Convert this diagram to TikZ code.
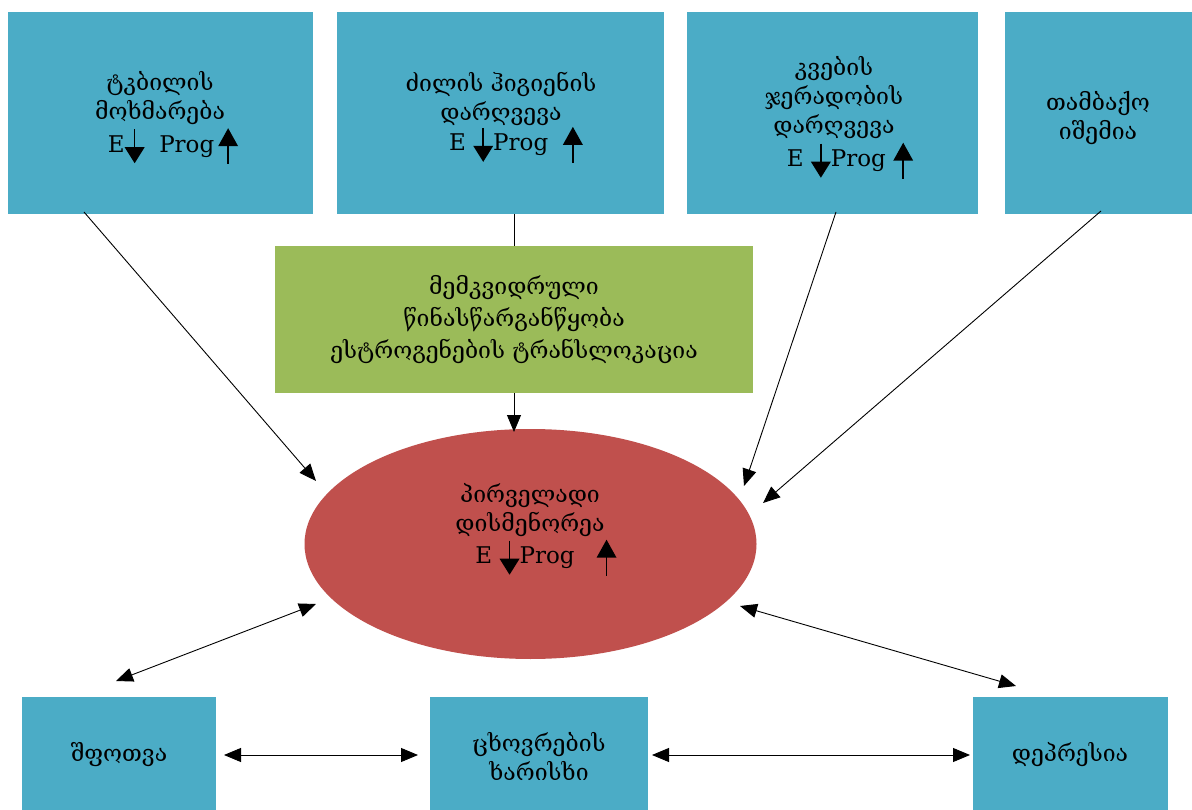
\documentclass[tikz,border=0pt]{standalone}
\usepackage{fontspec}
\setmainfont{Liberation Serif}
\newfontfamily\geo{DejaVu Serif}
\usetikzlibrary{arrows.meta,shapes.geometric}
\definecolor{boxblue}{HTML}{4BACC6}
\definecolor{boxgreen}{HTML}{9BBB59}
\definecolor{ellred}{HTML}{C0504D}
\newcommand{\darr}{\tikz[baseline=0pt,x=1pt,y=1pt]{\draw[draw=black,line width=1.6pt] (0,23)--(0,4);\fill[fill=black] (-10,5)--(10,5)--(0,-11)--cycle;}}
\newcommand{\uarr}{\tikz[baseline=0pt,x=1pt,y=1pt]{\fill[fill=black] (-10,6)--(10,6)--(0,24)--cycle;\draw[draw=black,line width=1.6pt] (0,7)--(0,-12);}}
\newcommand{\lat}[2]{\hspace*{#1}{\fontsize{23}{28}\selectfont #2}}
\tikzset{
  bluebox/.style={fill=boxblue,draw=none,inner sep=0pt},
  greenbox/.style={fill=boxgreen,draw=none,inner sep=0pt},
  txt/.style={align=center,font=\geo\fontsize{23}{29}\selectfont,text=black},
  conn/.style={draw=black,line width=0.9pt},
  arr/.style={conn,-{Triangle[length=17pt,width=14pt]}},
  darrow/.style={conn,{Triangle[length=17pt,width=14pt]}-{Triangle[length=17pt,width=14pt]}}
}
\begin{document}
\begin{tikzpicture}[x=1pt,y=-1pt]
\useasboundingbox (0,0) rectangle (1192,810);
\fill[white] (0,0) rectangle (1192,810);
% top boxes
\node[bluebox,minimum width=305pt,minimum height=202pt] (b1) at (160.5,113) {};
\node[bluebox,minimum width=327pt,minimum height=202pt] (b2) at (500.5,113) {};
\node[bluebox,minimum width=291pt,minimum height=202pt] (b3) at (832.5,113) {};
\node[bluebox,minimum width=187pt,minimum height=202pt] (b4) at (1098.5,113) {};
% green
\node[greenbox,minimum width=478pt,minimum height=147pt] (g) at (514,319.5) {};
% ellipse
\node[ellipse,fill=ellred,draw=none,minimum width=452pt,minimum height=230pt,inner sep=0pt] (e) at (530.5,544) {};
% bottom boxes
\node[bluebox,minimum width=194pt,minimum height=113pt,anchor=north west] (s) at (22,697) {};
\node[bluebox,minimum width=218pt,minimum height=113pt,anchor=north west] (c) at (430,697) {};
\node[bluebox,minimum width=195pt,minimum height=113pt,anchor=north west] (d) at (973,697) {};
% texts
\node[txt] (t1) at (160,118) {ტკბილის\\მოხმარება\\[3pt]\lat{26pt}{E\darr\ \ Prog\,\uarr}};
\node[txt] (t2) at (501,118) {ძილის ჰიგიენის\\დარღვევა\\[0pt]\lat{30pt}{E \darr Prog \ \uarr}};
\node[txt] (t3) at (834,118) {კვების\\ჯერადობის\\დარღვევა\\[3pt]\lat{32pt}{E \darr Prog \uarr}};
\node[txt] (t4) at (1098,118) {თამბაქო\\იშემია};
\node[txt,font=\geo\fontsize{23}{32}\selectfont] (tg) at (514,320) {მემკვიდრული\\წინასწარგანწყობა\\ესტროგენების ტრანსლოკაცია};
\node[txt] (te) at (530,530) {პირველადი\\დისმენორეა\\[2pt]\lat{32pt}{E \darr Prog \ \ \uarr}};
\node[txt] (ts) at (119,755) {შფოთვა};
\node[txt] (tc) at (539,756) {ცხოვრების\\ხარისხი};
\node[txt] (td) at (1070,755) {დეპრესია};
% connectors
\coordinate (a1s) at (84,212); \coordinate (a1e) at (316,481);
\draw[arr] (a1s) -- (a1e);
\coordinate (a2s) at (514,214); \coordinate (a2e) at (514,246);
\draw[conn] (a2s) -- (a2e);
\coordinate (a3s) at (514,393); \coordinate (a3e) at (514,432);
\draw[arr] (a3s) -- (a3e);
\coordinate (a4s) at (836,212); \coordinate (a4e) at (744,486);
\draw[arr] (a4s) -- (a4e);
\coordinate (a5s) at (1101,211); \coordinate (a5e) at (763,503);
\draw[arr] (a5s) -- (a5e);
\coordinate (a6s) at (316,604); \coordinate (a6e) at (116,681);
\draw[darrow] (a6s) -- (a6e);
\coordinate (a7s) at (740,606); \coordinate (a7e) at (1016,686);
\draw[darrow] (a7s) -- (a7e);
\coordinate (a8s) at (224,755); \coordinate (a8e) at (418,755);
\draw[darrow] (a8s) -- (a8e);
\coordinate (a9s) at (652,755); \coordinate (a9e) at (970,755);
\draw[darrow] (a9s) -- (a9e);
\end{tikzpicture}
\end{document}
